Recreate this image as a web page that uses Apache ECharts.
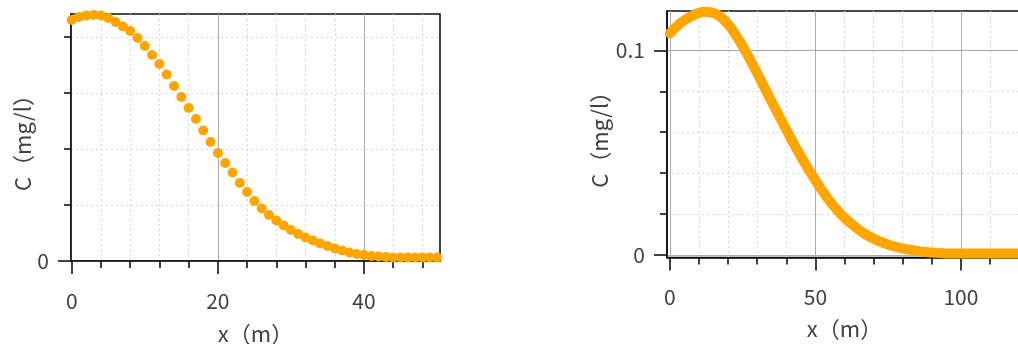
<!DOCTYPE html>
<html><head><meta charset="utf-8">
<script src="https://cdn.jsdelivr.net/npm/echarts@6/dist/echarts.min.js"></script>
<style>html,body{margin:0;padding:0;background:#fff}#c{width:1018px;height:344px}</style>
</head><body><div id="c"></div><script>
// ---- data ----
const leftX = [0,1,2,3,4,5,6,7,8,9,10,11,12,13,14,15,16,17,18,19,20,21,22,23,24,25,26,27,28,29,30,31,32,33,34,35,36,37,38,39,40,41,42,43,44,45,46,47,48,49,50];
const leftC = [0.2152,0.2179,0.2192,0.2196,0.2192,0.2170,0.2134,0.2094,0.2054,0.1991,0.1920,0.1839,0.1759,0.1665,0.1563,0.1464,0.1366,0.1268,0.1165,0.1063,0.0964,0.0875,0.0790,0.0696,0.0616,0.0536,0.0469,0.0411,0.0362,0.0317,0.0277,0.0241,0.0210,0.0183,0.0156,0.0134,0.0112,0.0094,0.0076,0.0063,0.0054,0.0045,0.0040,0.0036,0.0031,0.0031,0.0031,0.0031,0.0031,0.0031,0.0031];
const rightX = [0,2,4,6,8,10,12,14,16,18,20,22,24,26,28,30,32,34,36,38,40,42,44,46,48,50,52,54,56,58,60,62,64,66,68,70,72,74,76,78,80,82,84,86,88,90,95,100,110,121];
const rightC = [0.1083,0.1112,0.1137,0.1156,0.1171,0.1183,0.1188,0.1185,0.1176,0.1156,0.1127,0.1088,0.1044,0.0995,0.0943,0.0888,0.0832,0.0776,0.0721,0.0666,0.0612,0.0559,0.0507,0.0457,0.0410,0.0365,0.0322,0.0281,0.0244,0.0211,0.0182,0.0157,0.0134,0.0113,0.0095,0.0080,0.0067,0.0056,0.0047,0.0039,0.0032,0.0027,0.0022,0.0018,0.0015,0.0012,0.0008,0.0007,0.0007,0.0007];
const leftXMajor = [0,20,40];
const leftXMinor = [4,8,12,16,24,28,32,36,44,48];
const leftYMajor = [0];
const leftYMinor = [0.05,0.1,0.15,0.2];
const rightXMajor = [0,50,100];
const rightXMinor = [10,20,30,40,60,70,80,90,110,120];
const rightYMajor = [0,0.1];
const rightYMinor = [0.02,0.04,0.06,0.08];
const xName = 'x（m）';
const yName = 'C（mg/l）';

const FONT = '"Noto Sans CJK SC","Noto Sans",sans-serif';
const TXT = '#404040';
const FS = 21;
const NFS = 22;
const AX = {color:'#111', width:1.6};

function majorAxis(dim, gi, min, max, ticks, name, nameGap, margin){
  return {
    type:'value', gridIndex:gi, position: dim==='x'?'bottom':'left', min:min, max:max,
    name:name, nameLocation:'middle', nameGap:nameGap,
    nameTextStyle:{fontSize:NFS, color:TXT, fontFamily:FONT},
    axisLine:{show:true, onZero:false, lineStyle:AX},
    axisTick:{show:true, length:13, customValues:ticks, lineStyle:AX},
    axisLabel:{show:true, customValues:ticks, margin:margin, fontSize:FS, color:TXT, fontFamily:FONT},
    splitLine:{show:true, lineStyle:{color:'#ababab', width:1}}
  };
}
function minorAxis(dim, gi, min, max, ticks){
  return {
    type:'value', gridIndex:gi, position: dim==='x'?'bottom':'left', min:min, max:max,
    axisLine:{show:false, onZero:false},
    axisTick:{show:true, length:7, customValues:ticks, lineStyle:AX},
    axisLabel:{show:false},
    splitLine:{show:true, lineStyle:{color:'#d4d4d4', width:1, type:[2,3]}}
  };
}

const chart = echarts.init(document.getElementById('c'), null, {renderer:'canvas'});
chart.setOption({
  backgroundColor:'#fff',
  animation:false,
  grid:[
    {left:71, right:578, top:14, bottom:83, outerBoundsMode:'none', containLabel:false,
     show:true, borderColor:'#111', borderWidth:1.6, backgroundColor:'#fff'},
    {left:667, right:-4, top:11, bottom:86.5, outerBoundsMode:'none', containLabel:false,
     show:true, borderColor:'#111', borderWidth:1.6, backgroundColor:'#fff'}
  ],
  xAxis:[
    minorAxis('x',0,-0.1,50.4,leftXMinor),
    majorAxis('x',0,-0.1,50.4,leftXMajor,xName,62,30),
    minorAxis('x',1,-1,121,rightXMinor),
    majorAxis('x',1,-1,121,rightXMajor,xName,60,29)
  ],
  yAxis:[
    minorAxis('y',0,0,0.2205,leftYMinor),
    majorAxis('y',0,0,0.2205,leftYMajor,yName,37,22),
    minorAxis('y',1,-0.0012,0.1192,rightYMinor),
    majorAxis('y',1,-0.0012,0.1192,rightYMajor,yName,56,22)
  ],
  series:[
    {type:'scatter', xAxisIndex:1, yAxisIndex:1, symbol:'circle', symbolSize:10, clip:false,
     itemStyle:{color:'#FFA500', opacity:1}, data:leftX.map((x,i)=>[x,leftC[i]])},
    {type:'line', xAxisIndex:3, yAxisIndex:3, smooth:0.5, showSymbol:false, clip:false,
     lineStyle:{color:'#FFA500', width:10, cap:'round', join:'round'}, data:rightX.map((x,i)=>[x,rightC[i]])}
  ]
});
</script></body></html>
